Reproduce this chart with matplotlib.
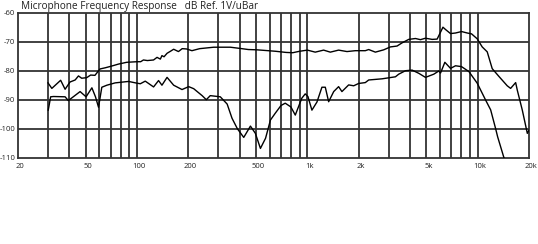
import numpy as np
import matplotlib
matplotlib.use("Agg")
import matplotlib.transforms as mtransforms
from matplotlib import pyplot as plt

# upper response curve (Hz, dB)
upper_f = [30, 31.6, 35.6, 37.8, 40.4, 43.3, 45.3, 47.3, 50.6, 53.4, 56.6, 60.6,
           65, 70, 78, 87, 100, 105, 109, 115, 125, 131, 137, 140, 144, 150,
           157, 164, 175, 184, 195, 210, 233, 282, 353, 400, 450, 505, 560,
           650, 750, 820, 900, 1000, 1112, 1245, 1363, 1525, 1708, 1911, 2188,
           2290, 2507, 2806, 3070, 3360, 3596, 3936, 4311, 4612, 4932, 5399,
           5778, 6250, 6471, 6924, 7409, 8035, 8677, 9201, 9930, 10625, 11370,
           12165, 13330, 14900, 15600, 16700, 17070, 18270, 19550, 20000]
upper_db = [-84.2, -86.1, -83.3, -86.4, -83.9, -83.2, -81.8, -82.6, -82.4, -81.5,
            -81.6, -79.4, -79.0, -78.5, -77.7, -77.1, -76.9, -76.9, -76.3, -76.5,
            -76.3, -75.4, -76.0, -74.8, -75.2, -74.0, -73.3, -72.6, -73.4, -72.4,
            -72.5, -73.1, -72.4, -71.9, -71.9, -72.3, -72.7, -72.8, -73.0, -73.3,
            -73.7, -73.8, -73.3, -72.9, -73.6, -72.9, -73.6, -72.9, -73.4, -73.1,
            -73.1, -72.7, -73.6, -72.8, -71.8, -71.5, -70.4, -69.2, -68.9, -69.3,
            -68.8, -69.2, -69.1, -65.0, -65.8, -67.2, -67.0, -66.5, -67.0, -67.3,
            -69.0, -71.8, -73.5, -79.3, -82.0, -85.2, -86.1, -84.1, -86.7, -93.6,
            -101.6, -100.5]

# lower response curve (Hz, dB)
lower_f = [30.1, 31.1, 32.3, 37.8, 39.5, 46.3, 50.2, 54.3, 57, 59.4, 62.1, 66.5,
           74.4, 89.1, 99.8, 104.5, 111.7, 125, 133.7, 140, 150, 164, 183.6, 201,
           215, 241, 255, 269, 308, 338, 361, 388, 423, 463, 495, 530, 568, 607,
           647, 700, 741, 800, 849, 927, 971, 1007, 1063, 1138, 1217, 1274, 1333,
           1427, 1525, 1595, 1747, 1870, 2000, 2188, 2290, 2507, 2744, 3288, 3437,
           3767, 4119, 4508, 4932, 5523, 5910, 6050, 6412, 6924, 7409, 8035, 8876,
           9930, 11120, 11910, 12740, 13090, 14200, 14500]
lower_db = [-93.6, -89.0, -88.9, -89.0, -90.3, -87.2, -89.0, -85.9, -89.0, -92.6,
            -85.7, -85.0, -84.2, -83.7, -84.3, -84.5, -83.6, -85.6, -83.4, -85.0,
            -82.3, -85.0, -86.5, -85.5, -86.2, -88.6, -90.0, -88.6, -89.0, -91.5,
            -96.4, -100.0, -103.0, -99.1, -101.6, -106.8, -103.3, -97.0, -94.7,
            -92.0, -91.2, -92.5, -95.3, -89.5, -88.0, -88.9, -93.6, -90.8, -85.7,
            -85.7, -90.7, -87.2, -85.5, -87.2, -84.9, -85.2, -84.4, -84.1, -83.2,
            -83.0, -82.8, -82.1, -81.2, -80.0, -79.8, -80.9, -82.3, -81.2, -80.1,
            -80.8, -77.1, -79.2, -78.3, -78.6, -80.3, -84.3, -90.1, -93.5, -100.0,
            -102.8, -109.7, -111.0]

xtick_vals = [20, 50, 100, 200, 500, 1000, 2000, 5000, 10000, 20000]
xtick_labels = ['20', '50', '100', '200', '500', '1k', '2k', '5k', '10k', '20k']
ytick_vals = [-60, -70, -80, -90, -100, -110]
grid_freqs = [30, 40, 50, 60, 70, 80, 90, 100, 200, 300, 400, 500, 600, 700, 800,
              900, 1000, 2000, 3000, 4000, 5000, 6000, 7000, 8000, 9000, 10000]

plt.rcParams['font.family'] = ['Open Sans', 'DejaVu Sans']
grid_col = '#333333'

fig = plt.figure(figsize=(5.38, 2.44), dpi=100)
ax = fig.add_axes([18 / 538, 1 - 157.7 / 244, 511 / 538, 145 / 244])

for f in grid_freqs:
    ax.axvline(f, color=grid_col, lw=1.3, zorder=1)
for v in ytick_vals[1:-1]:
    ax.axhline(v, color=grid_col, lw=1.3, zorder=1)

ax.plot(upper_f, upper_db, color='black', lw=1.0, zorder=3)
ax.plot(lower_f, lower_db, color='black', lw=1.0, zorder=3)

ax.set_xscale('log')
ax.set_xlim(20, 20000)
ax.set_ylim(-110, -60)
ax.set_xticks(xtick_vals)
ax.set_xticklabels(xtick_labels)
ax.minorticks_off()
ax.set_yticks(ytick_vals)
ax.set_yticklabels([str(v) for v in ytick_vals])
ax.tick_params(length=0, labelsize=5.5, colors='#222222', pad=2)
ax.tick_params(axis='x', pad=4)
# x labels sit a touch right of their lines in the original
shift = mtransforms.ScaledTranslation(2 / 100, 0, fig.dpi_scale_trans)
for lab in ax.get_xticklabels():
    lab.set_transform(lab.get_transform() + shift)
for s in ax.spines.values():
    s.set_color(grid_col)
    s.set_linewidth(1.3)

fig.text(21 / 538, 1 - 8.5 / 244, 'Microphone Frequency Response   dB Ref. 1V/uBar',
         fontsize=7.2, va='baseline', ha='left', color='#222222')

fig.savefig('out.png', dpi=100)
